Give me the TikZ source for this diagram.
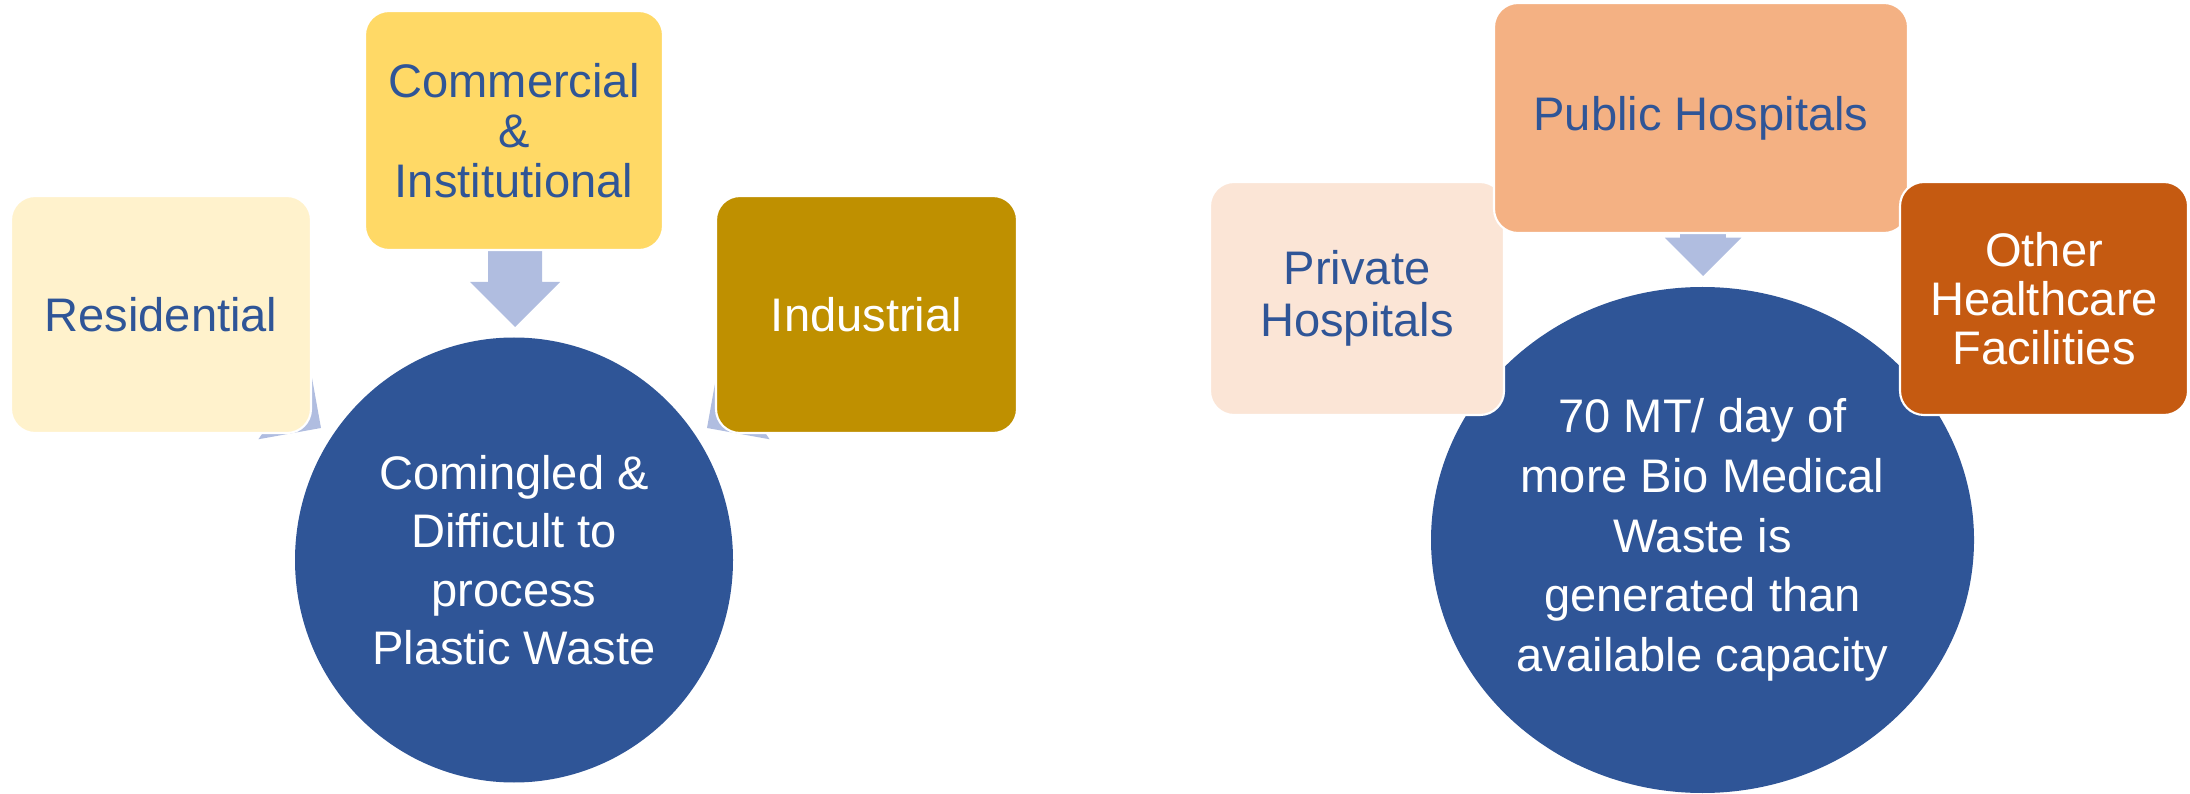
\documentclass[tikz,border=0pt]{standalone}
\usepackage{fontspec}
\setmainfont{Liberation Sans}
\usetikzlibrary{shapes.geometric}

\definecolor{hubblue}{HTML}{2F5597}
\definecolor{arrowblue}{HTML}{B0BDE0}
\definecolor{resyellow}{HTML}{FFF2CC}
\definecolor{comyellow}{HTML}{FFD966}
\definecolor{indgold}{HTML}{BF9000}
\definecolor{privpeach}{HTML}{FBE5D6}
\definecolor{pubpeach}{HTML}{F4B183}
\definecolor{othrust}{HTML}{C55A11}

\tikzset{
  % block arrow, tip at the origin, pointing along +x
  fatarrow/.pic={
    \fill[arrowblue] (0,0) -- (-45,45) -- (-45,27) -- (-90,27)
      -- (-90,-27) -- (-45,-27) -- (-45,-45) -- cycle;
  }
}

\begin{document}
\begin{tikzpicture}[x=0.1mm, y=-0.1mm,
    source/.style={draw=white, line width=0.6pt, rounded corners=2.4mm,
      align=center, inner sep=0pt, font=\fontsize{13.4}{14.2}\selectfont},
    hub/.style={ellipse, fill=hubblue, text=white, align=center, inner sep=0pt}]
    \useasboundingbox (0,0) rectangle (2190,794);

    % arrows sit behind the boxes
    \pic[rotate=-34.8] at (321,428) {fatarrow};
    \pic[rotate=-90] at (515,327) {fatarrow};
    \pic[rotate=214.8] at (707,428) {fatarrow};
    \pic[rotate=-90, scale=0.85] at (1703,276) {fatarrow};

    % plastic waste
    \node[source, fill=resyellow, text=hubblue, minimum width=30mm, minimum height=23.7mm] (res) at (161,314.5) {Residential};
    \node[source, fill=comyellow, text=hubblue, minimum width=29.8mm, minimum height=23.9mm] (com) at (514,130.5) {Commercial\\\&\\Institutional};
    \node[source, fill=indgold, text=white, minimum width=30.1mm, minimum height=23.7mm] (ind) at (866.5,314.5) {Industrial};
    \node[hub, minimum width=43.8mm, minimum height=44.5mm, font=\fontsize{13.4}{16.6}\selectfont] (plastic) at (514,560) {Comingled \&\\Difficult to\\process\\Plastic Waste};

    % bio medical waste
    \node[hub, minimum width=54.3mm, minimum height=50.6mm, font=\fontsize{13.4}{17}\selectfont] (biomed) at (1702.5,540) {70 MT/ day of\\more Bio Medical\\Waste is\\generated than\\available capacity};
    \node[source, fill=privpeach, text=hubblue, minimum width=29.4mm, minimum height=23.3mm, font=\fontsize{13.4}{14.8}\selectfont] (priv) at (1357,298.5) {Private\\Hospitals};
    \node[source, fill=pubpeach, text=hubblue, minimum width=41.4mm, minimum height=23mm] (pub) at (1701,118) {Public Hospitals};
    \node[source, fill=othrust, text=white, minimum width=28.8mm, minimum height=23.3mm, font=\fontsize{13.4}{13.9}\selectfont] (oth) at (2044,298.5) {Other\\Healthcare\\Facilities};
\end{tikzpicture}
\end{document}
